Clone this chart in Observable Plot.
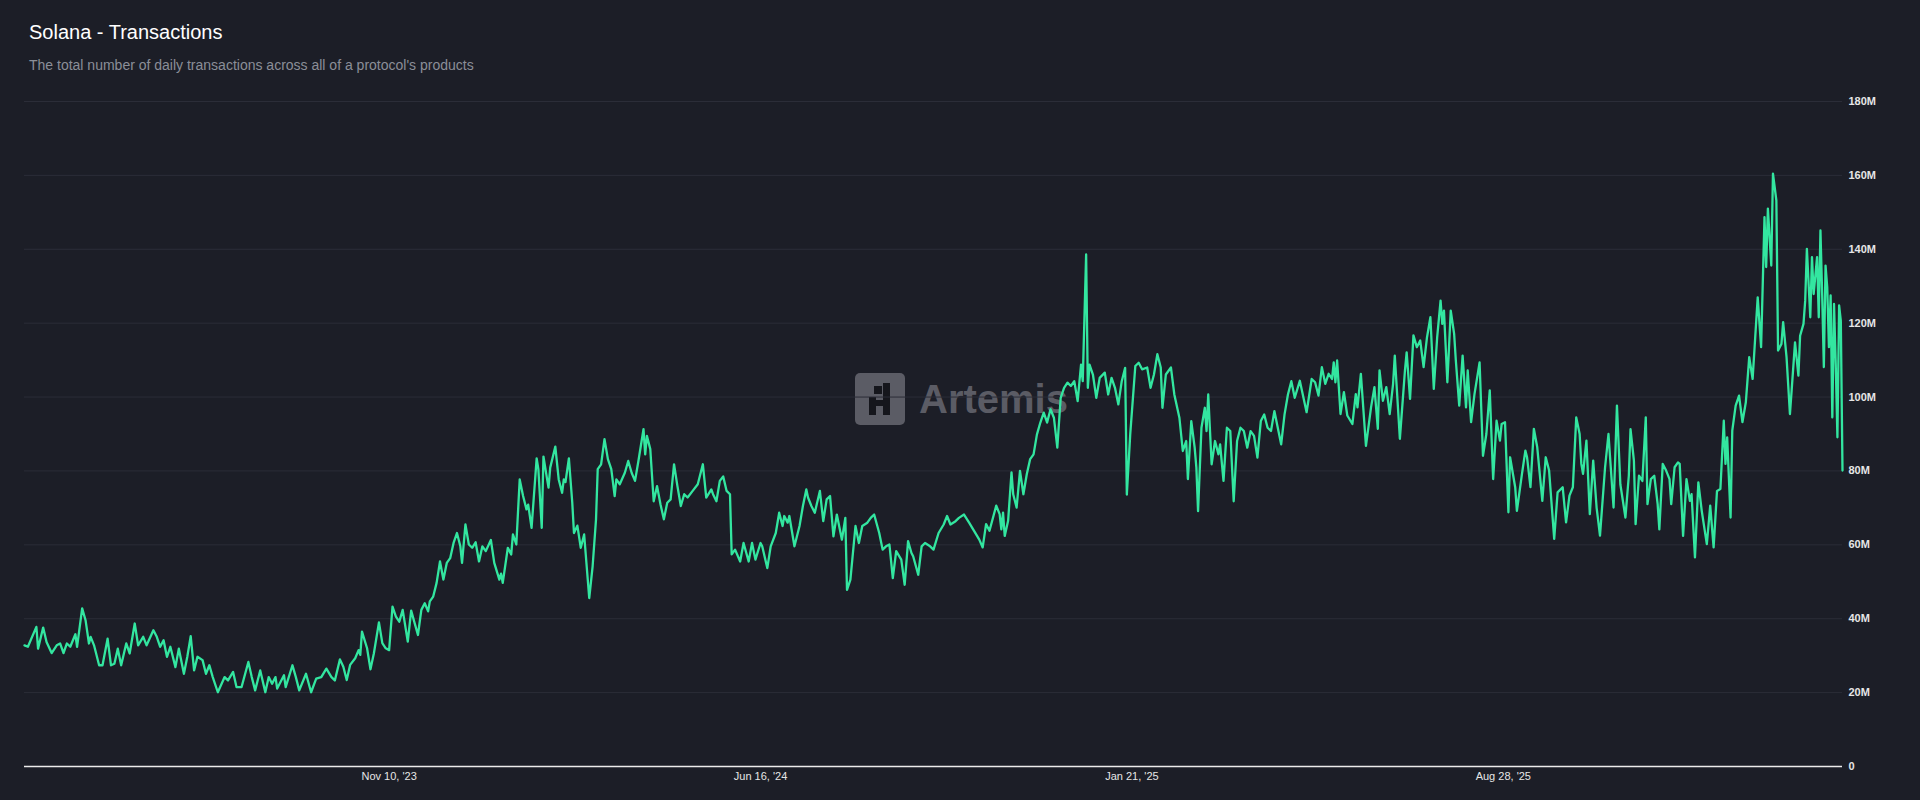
<!DOCTYPE html>
<html>
<head>
<meta charset="utf-8">
<script src="https://cdn.jsdelivr.net/npm/d3@7"></script>
<script src="https://cdn.jsdelivr.net/npm/@observablehq/plot@0.6"></script>
<style>
  html, body { margin: 0; padding: 0; background: #1c1e27; width: 1920px; height: 800px; overflow: hidden; }
  body { position: relative; font-family: "Liberation Sans", Arial, Helvetica, sans-serif; }
  #header { position: relative; height: 90px; }
  #title { position: absolute; left: 29px; top: 20px; font-size: 20px; line-height: 24px; color: #ffffff; }
  #subtitle { position: absolute; left: 29px; top: 57px; font-size: 14px; line-height: 16px; color: #8b8e98; }
  #watermark { position: absolute; left: 855px; top: 373px; display: flex; align-items: center; gap: 14px; }
  #wm-text { font-size: 40px; font-weight: bold; color: #5b5c65; }
  #chart { position: relative; z-index: 2; }
</style>
</head>
<body>
<div id="header">
  <div id="title">Solana - Transactions</div>
  <div id="subtitle">The total number of daily transactions across all of a protocol's products</div>
</div>
<div id="watermark">
  <svg width="50" height="52" viewBox="0 0 50 52">
    <rect x="0" y="0" width="50" height="52" rx="5" fill="#5b5c65"/>
    <path d="M28 10 H35 V42 H28 V33 H21 V42 H14 V24 H21 V27 H28 Z M19 13 H27 V21 H19 Z" fill="#15161c"/>
  </svg>
  <div id="wm-text">Artemis</div>
</div>
<div id="chart"></div>
<script>
// ---- data (daily transactions, millions) ----
const startDate = "2023-04-09";
const dayOffset = [
0,2,7,8,11,13,16,19,21,23,25,27,30,31,34,36,38,39,41,44,46,49,51,53,55,57,60,62,65,67,70,72,76,78,80,82,84,86,89,91,94,96,98,100,102,105,107,109,111,114,118,120,123,125,128,132,134,136,139,142,144,146,148,149,153,154,158,160,162,166,169,172,175,178,181,183,
186,188,190,192,195,197,198,199,202,204,206,209,211,213,215,217,219,221,223,226,228,232,234,236,238,239,241,243,245,247,249,251,253,255,257,258,260,262,264,266,268,270,272,275,277,280,281,282,285,287,288,290,292,294,296,297,299,302,303,305,306,308,309,310,313,315,317,318,319,321,323,324,326,328,330,333,335,337,338,340,342,344,346,348,349,351,354,356,358,360,362,365,366,367,369,371,373,
375,377,379,381,383,385,387,389,391,394,397,400,402,405,406,408,410,412,414,416,417,419,422,424,427,429,431,434,435,438,440,443,445,447,448,450,451,454,457,459,461,462,464,466,469,471,473,475,477,479,482,484,485,487,490,492,494,497,499,501,504,506,508,510,512,514,517,519,521,523,524,527,529,531,534,536,539,542,544,546,549,551,554,557,560,563,
565,567,569,573,575,576,577,578,580,582,583,585,587,589,591,593,595,597,599,601,603,605,607,609,611,613,615,617,619,621,623,624,626,627,628,630,632,634,637,639,641,643,645,647,649,650,652,655,657,659,662,664,666,668,670,671,673,676,678,681,683,685,686,688,690,691,692,694,696,697,698,700,702,704,705,707,709,711,713,715,717,719,721,723,725,727,729,731,733,735,737,739,741,743,745,747,749,752,
756,759,761,763,765,767,769,771,772,773,774,776,778,780,783,785,786,788,791,794,796,798,799,801,803,805,807,808,811,814,815,817,819,821,823,825,827,829,831,833,835,836,837,839,841,843,844,846,848,850,851,853,855,858,860,862,864,866,868,870,871,873,875,876,879,880,883,885,886,888,890,892,895,897,899,902,904,907,909,911,913,915,917,918,919,921,923,925,927,929,932,934,937,939,
941,944,946,947,949,950,952,954,956,957,959,961,963,964,966,968,970,971,973,975,976,978,980,982,983,985,987,989,992,994,996,998,1000,1002,1003,1004,1006,1007,1009,1011,1013,1015,1017,1019,1022,1024,1026,1027,1028,1030,1031,1033,1034,1036,1037,1039,1041,1042,1044,1046,1047,1049,1050,1051,1053,1054,1055,1057,1058,1059,1060,1061,1062,1063,1064,1065,1066,1067,1068,1069,1070,1071,1072
];
const txMillions = [
32.8,32.4,37.8,31.9,37.6,33.7,30.7,32.8,33.3,30.7,33.3,32.4,35.8,32.4,42.8,39.6,33.3,35.1,32.8,27.4,27.4,34.6,27.4,27.8,31.9,27.4,33.3,30.6,38.7,32.8,35.1,32.8,36.9,35.1,32.4,34.2,29.7,32.4,26.9,31.9,25.1,29.7,35.3,26.0,29.7,28.8,25.1,27.4,24.2,20.1,24.2,23.3,25.6,21.5,21.5,28.3,24.2,20.6,26.0,20.1,24.2,22.4,24.2,21.1,24.7,21.5,27.4,24.2,20.6,25.1,20.1,23.8,24.2,26.5,24.2,23.3,
29.0,27.0,23.4,27.5,29.3,31.5,30.2,36.5,32.0,26.3,30.6,39.0,33.4,32.0,31.5,43.3,40.6,39.2,42.4,33.8,42.2,35.6,42.4,44.2,42.0,44.7,46.0,49.7,55.5,50.6,55.1,56.4,60.5,63.2,59.6,55.1,65.5,60.1,59.2,60.7,55.5,59.6,58.3,61.3,55.1,50.6,52.2,49.7,59.2,57.4,62.8,60.1,77.7,73.2,69.6,70.9,64.6,83.4,80.5,64.6,83.9,78.2,75.5,80.9,86.6,77.7,74.1,77.7,77.0,83.4,71.4,63.2,65.2,59.2,62.8,45.6,54.2,66.9,80.5,81.8,88.6,83.2,80.5,73.2,77.7,76.4,79.5,82.7,79.5,77.3,82.7,91.3,84.5,89.5,85.9,71.8,75.9,
71.0,66.9,71.4,72.3,81.8,75.9,70.5,73.7,72.8,74.6,76.4,81.8,72.8,75.0,73.7,71.8,77.3,78.5,74.6,73.7,57.4,58.7,55.5,60.5,55.5,60.5,56.0,60.5,59.6,53.7,59.6,63.2,68.7,65.1,67.8,66.0,67.8,59.6,65.1,70.5,75.0,72.8,70.5,68.7,74.6,66.4,72.3,73.2,62.3,68.2,61.4,67.3,47.8,50.6,65.1,60.5,65.1,66.0,67.3,68.2,63.2,58.7,59.6,60.1,51.0,58.3,56.0,49.2,61.0,57.8,56.9,51.9,59.6,60.5,59.6,58.7,63.2,65.5,67.8,65.5,66.4,67.3,68.2,66.0,63.7,61.4,
59.3,65.6,63.8,70.6,68.3,64.2,68.7,62.4,66.5,79.6,73.7,70.1,80.0,73.7,79.1,83.2,84.5,89.9,93.1,95.8,93.1,96.7,94.4,86.3,99.8,102.5,103.9,103.0,104.3,98.9,108.8,104.3,138.6,102.5,108.8,106.1,99.8,105.2,106.6,100.7,105.2,102.5,98.0,104.3,107.9,73.6,89.9,108.4,109.3,107.5,108.0,102.5,106.1,111.6,108.0,97.1,106.1,108.0,100.7,94.4,85.4,88.1,77.8,93.5,86.3,80.9,69.1,91.7,97.1,90.8,100.7,81.8,88.1,84.5,87.2,77.3,91.7,90.8,71.8,88.1,91.7,90.8,86.3,90.8,89.5,83.6,93.5,95.3,91.7,90.8,96.2,91.7,87.2,95.3,100.7,104.3,99.8,104.4,
95.9,104.9,104.0,100.4,108.1,103.6,106.3,104.9,109.4,104.0,109.9,95.4,101.3,95.0,92.7,100.8,97.2,106.3,86.8,97.2,102.7,91.4,107.2,99.0,102.7,95.4,103.6,111.2,88.7,107.2,112.1,99.5,116.7,113.5,115.3,108.1,116.2,121.6,102.2,116.2,126.1,119.8,123.4,104.0,123.4,117.1,109.9,97.7,111.2,97.2,107.2,93.2,100.8,109.4,84.1,90.0,101.8,77.8,93.6,88.2,92.7,93.2,68.8,83.7,75.6,69.2,79.2,85.5,83.7,75.6,91.4,86.4,71.9,83.7,80.1,61.6,74.2,75.6,66.1,73.3,75.6,94.5,90.0,81.9,79.2,88.2,68.3,82.8,70.1,62.5,81.0,90.0,70.1,97.7,
76.4,67.4,78.7,91.3,82.8,65.6,78.7,77.3,94.5,71.0,77.8,78.7,71.0,64.2,81.9,80.1,77.8,71.0,81.0,82.3,81.9,62.4,77.8,71.9,73.7,56.6,76.9,69.2,60.2,70.6,59.3,74.6,75.1,93.6,81.9,89.1,67.4,90.9,97.7,100.4,93.2,98.6,110.8,104.9,127.0,113.5,148.7,135.2,151.0,135.6,160.5,153.2,112.6,114.4,120.3,110.8,95.4,101.7,114.8,105.8,116.6,119.8,126.1,140.1,121.6,137.9,127.9,137.9,121.6,145.1,127.9,108.1,135.6,129.7,113.5,127.5,94.5,125.2,109.0,89.1,124.8,120.7,80.1
];
const yTicks = [0, 20, 40, 60, 80, 100, 120, 140, 160, 180];
const xTickDates = ["2023-11-10", "2024-06-16", "2025-01-21", "2025-08-28"];
const lastDay = 1072;

// ---- build table ----
const start = d3.utcParse("%Y-%m-%d")(startDate);
const data = dayOffset.map((d, i) => ({ date: d3.utcDay.offset(start, d), value: txMillions[i] }));
const xTicks = xTickDates.map(d3.utcParse("%Y-%m-%d"));

const chart = Plot.plot({
  width: 1920,
  height: 710,
  marginTop: 11,
  marginBottom: 34,
  marginLeft: 24,
  marginRight: 78,
  style: { background: "transparent", color: "#e6e6e6", fontFamily: "'Liberation Sans', Arial, Helvetica, sans-serif", fontSize: "11px" },
  x: { type: "utc", domain: [start, d3.utcDay.offset(start, lastDay)] },
  y: { domain: [0, 180] },
  marks: [
    Plot.ruleY(yTicks.filter(t => t > 0), { stroke: "#2b2d38", strokeWidth: 1 }),
    Plot.ruleY([0], { stroke: "#ececec", strokeWidth: 1.3 }),
    Plot.lineY(data, { x: "date", y: "value", stroke: "#33e6a0", strokeWidth: 2.3, strokeLinejoin: "round" }),
    Plot.axisY({ anchor: "right", ticks: yTicks, tickSize: 0, tickPadding: 6, label: null,
      tickFormat: d => d === 0 ? "0" : d + "M", fill: "#e6e6e6", fontWeight: "bold" }),
    Plot.axisX({ ticks: xTicks, tickSize: 0, tickPadding: 6, label: null,
      tickFormat: d3.utcFormat("%b %-d, '%y"), fill: "#e6e6e6" })
  ]
});
document.getElementById("chart").appendChild(chart);
</script>
</body>
</html>
